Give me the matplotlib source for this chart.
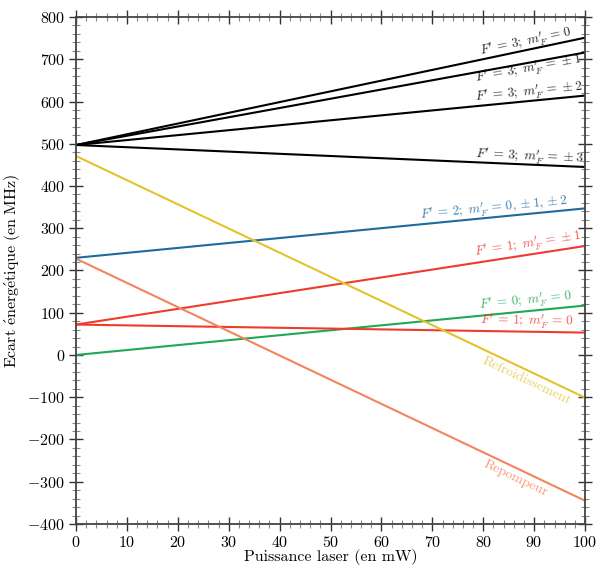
import numpy as np
import matplotlib
matplotlib.use("Agg")
import matplotlib.pyplot as plt
from matplotlib.ticker import MultipleLocator

plt.rcParams['font.family'] = ['cmr10', 'DejaVu Serif']
plt.rcParams['mathtext.fontset'] = 'cm'
plt.rcParams['axes.formatter.use_mathtext'] = True

# puissance laser (mW) : debut et fin de chaque droite
power = [0, 100]

f3_m0 = [497, 751]
f3_m1 = [497, 716]
f3_m2 = [497, 614]
f3_m3 = [497, 445]
f2_all = [230, 347]
f1_m1 = [72, 258]
f0_m0 = [0, 117]
f1_m0 = [72, 53]
refroid = [471, -101]
repomp = [228, -345]

xticks = [0, 10, 20, 30, 40, 50, 60, 70, 80, 90, 100]
yticks = [-400, -300, -200, -100, 0, 100, 200, 300, 400, 500, 600, 700, 800]

black = '#000000'
blue = '#1f6a9e'
red = '#ef3b2c'
green = '#1fa855'
yellow = '#e3c22f'
orange = '#f4845c'

fig = plt.figure(figsize=(5.97, 5.65), dpi=100)
ax = fig.add_axes([0.1273, 0.0726, 0.8527, 0.8973])

# (valeurs, couleur, etiquette, x de fin d'etiquette, decalage de la ligne de base en MHz)
series = [
    (f3_m0, black, r"$F'\,=\,3;\ m_F^{\prime}\,=\,0$", 97.6, 10),
    (f3_m1, black, r"$F'\,=\,3;\ m_F^{\prime}\,=\,\pm 1$", 99.4, -24),
    (f3_m2, black, r"$F'\,=\,3;\ m_F^{\prime}\,=\,\pm 2$", 99.6, 10),
    (f3_m3, black, r"$F'\,=\,3;\ m_F^{\prime}\,=\,\pm 3$", 99.8, 8),
    (f2_all, blue, r"$F'\,=\,2;\ m_F^{\prime}\,=\,0, \pm 1, \pm 2$", 96.6, 12),
    (f1_m1, red, r"$F'\,=\,1;\ m_F^{\prime}\,=\,\pm 1$", 99.4, 14),
    (f0_m0, green, r"$F'\,=\,0;\ m_F^{\prime}\,=\,0$", 97.6, 14),
    (f1_m0, red, r"$F'\,=\,1;\ m_F^{\prime}\,=\,0$", 97.8, 14),
]

for vals, col, lab, xe, off in series:
    ax.plot(power, vals, color=col, lw=1.5, solid_capstyle='butt')
ax.plot(power, refroid, color=yellow, lw=1.5, solid_capstyle='butt')
ax.plot(power, repomp, color=orange, lw=1.5, solid_capstyle='butt')

ax.set_xlim(0, 100)
ax.set_ylim(-400, 800)
ax.set_xticks(xticks)
ax.set_yticks(yticks)
ax.xaxis.set_minor_locator(MultipleLocator(2))
ax.yaxis.set_minor_locator(MultipleLocator(20))
ax.tick_params(which='both', direction='inout', top=True, right=True,
               labelsize=11.5, color='#333333')
ax.tick_params(which='major', length=10, width=1.0, pad=3)
ax.tick_params(which='minor', length=6, width=0.8, color='#888888')
for sp in ax.spines.values():
    sp.set_color('#444444')
    sp.set_linewidth(1.3)

ax.set_xlabel('Puissance laser (en mW)', fontsize=11.5, labelpad=-1)
ax.set_ylabel(r'$\mathrm{Ecart\ \acute{e}nerg\acute{e}tique\ (en\ MHz)}$',
              fontsize=11.5, labelpad=4)

# etiquettes le long des droites
def angle_of(vals):
    p0 = ax.transData.transform((power[0], vals[0]))
    p1 = ax.transData.transform((power[1], vals[1]))
    return np.degrees(np.arctan2(p1[1] - p0[1], p1[0] - p0[0]))

def y_at(vals, x):
    return vals[0] + (vals[1] - vals[0]) * x / 100.0

for vals, col, lab, xe, off in series:
    ax.text(xe, y_at(vals, xe) + off, lab, color=col, alpha=0.85, fontsize=9.5,
            rotation=angle_of(vals), rotation_mode='anchor',
            ha='right', va='baseline')

ax.text(89, y_at(refroid, 89) - 10, "Refroidissement", color=yellow,
        alpha=0.75, fontsize=10, rotation=angle_of(refroid),
        rotation_mode='anchor', ha='center', va='top')
ax.text(86.8, y_at(repomp, 86.8) - 10, "Repompeur", color=orange,
        alpha=0.8, fontsize=10, rotation=angle_of(repomp),
        rotation_mode='anchor', ha='center', va='top')

fig.savefig('out.png', dpi=100)
